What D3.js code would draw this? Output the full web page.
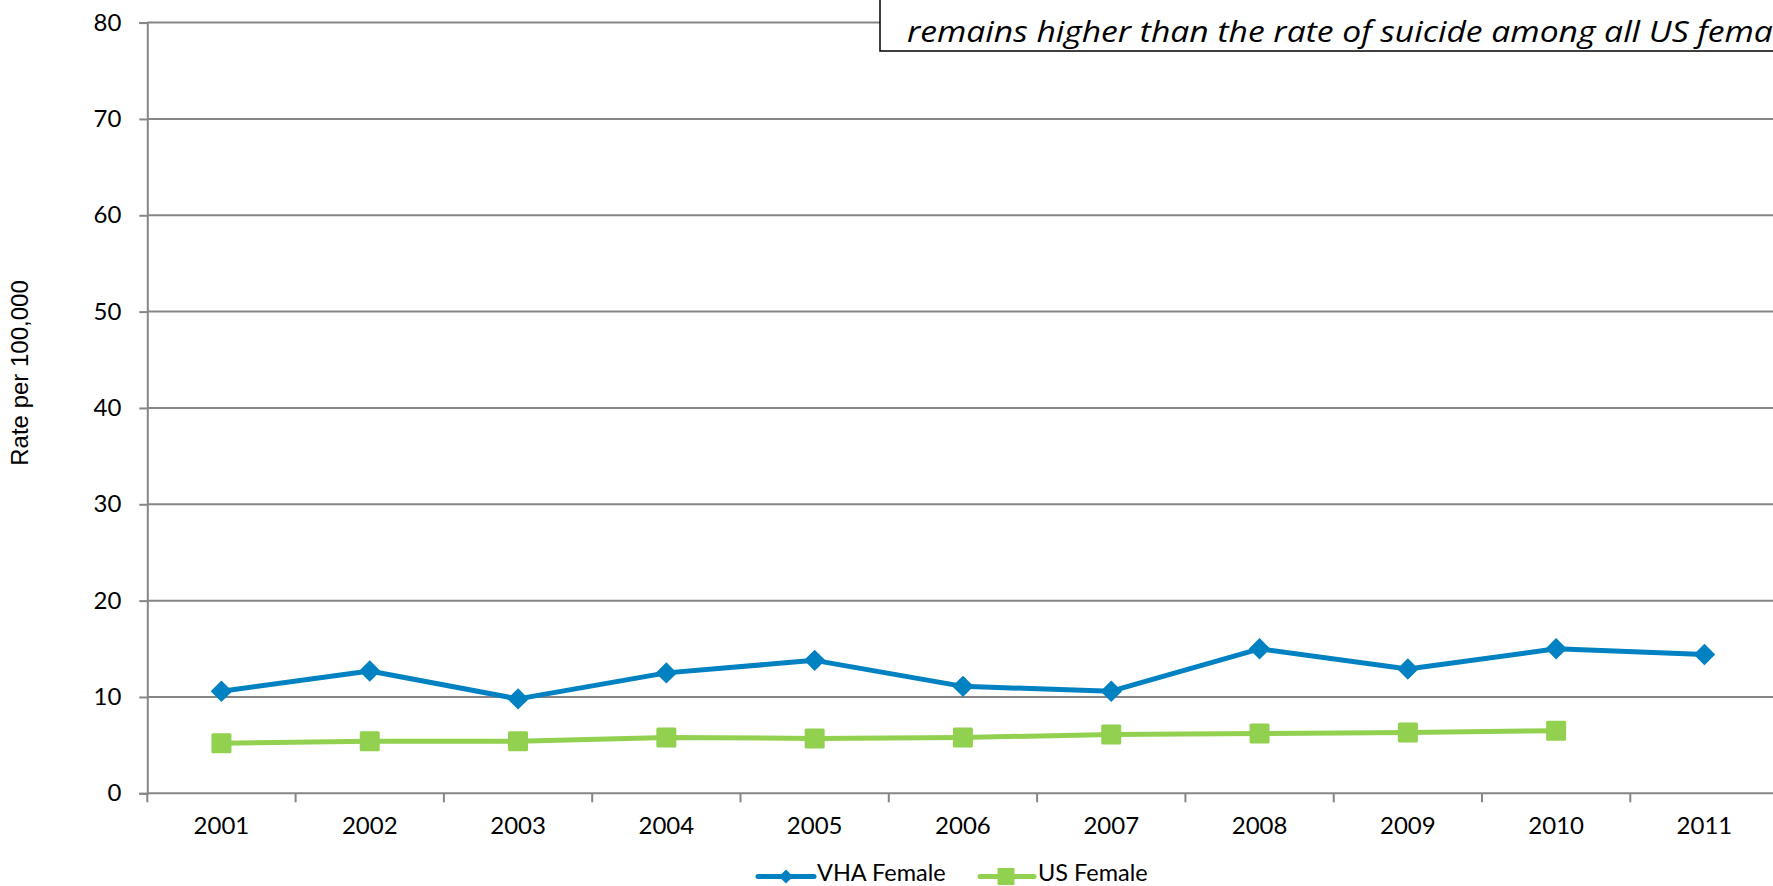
<!DOCTYPE html>
<html>
<head>
<meta charset="utf-8">
<script src="https://cdn.jsdelivr.net/npm/d3@7"></script>
<style>
  html, body { margin: 0; padding: 0; background: #fff; overflow: hidden; }
  svg { display: block; }
</style>
</head>
<body>
<svg id="chart" width="1773" height="886"></svg>
<script>
// Suicide rate per 100,000, female VHA users vs all US females
const years = ["2001", "2002", "2003", "2004", "2005", "2006", "2007", "2008", "2009", "2010", "2011"];
const vhaFemale = [10.6, 12.7, 9.8, 12.5, 13.8, 11.1, 10.6, 15.0, 12.9, 15.0, 14.4];
const usFemale = [5.2, 5.4, 5.4, 5.8, 5.7, 5.8, 6.1, 6.2, 6.3, 6.5];
const yTicks = [0, 10, 20, 30, 40, 50, 60, 70, 80];
const seriesNames = ["VHA Female", "US Female"];
const noteText = "remains higher than the rate of suicide among all US females.";

const BLUE = "#0081c1";
const GREEN = "#92d050";
const GRID = "#868686";
const TICK_FONT = "Lato, 'Open Sans', sans-serif";
const TICK_SIZE = 24;

const svg = d3.select("#chart");

const plot = { left: 147.3, right: 1778.6, top: 22.6, bottom: 793.3 };

const x = d3.scaleBand().domain(years).range([plot.left, plot.right]).paddingInner(0).paddingOuter(0);
const y = d3.scaleLinear().domain([0, 80]).range([plot.bottom, plot.top]);
const cx = d => x(d) + x.bandwidth() / 2;

// horizontal gridlines
svg.append("g")
  .selectAll("line")
  .data(yTicks.filter(t => t > 0))
  .join("line")
  .attr("x1", plot.left).attr("x2", plot.right)
  .attr("y1", d => y(d)).attr("y2", d => y(d))
  .attr("stroke", GRID).attr("stroke-width", 2);

// y axis
const yAxis = svg.append("g")
  .attr("transform", `translate(${plot.left},0)`)
  .call(d3.axisLeft(y).tickValues(yTicks).tickSize(8).tickPadding(18).tickFormat(d3.format("d")));
yAxis.select(".domain").attr("stroke", GRID).attr("stroke-width", 2);
yAxis.selectAll(".tick line").attr("stroke", GRID).attr("stroke-width", 2);
yAxis.selectAll(".tick text")
  .attr("font-family", TICK_FONT).attr("font-size", TICK_SIZE).attr("fill", "#000");

// x axis: labels centred in each category, ticks on category boundaries
const xAxis = svg.append("g")
  .attr("transform", `translate(0,${plot.bottom})`)
  .call(d3.axisBottom(x).tickSize(0).tickPadding(24));
xAxis.select(".domain").remove();
xAxis.selectAll(".tick text")
  .attr("font-family", TICK_FONT).attr("font-size", TICK_SIZE).attr("fill", "#000");

svg.append("line")
  .attr("x1", plot.left).attr("x2", plot.right)
  .attr("y1", plot.bottom).attr("y2", plot.bottom)
  .attr("stroke", GRID).attr("stroke-width", 2);

svg.append("g")
  .selectAll("line")
  .data(years.map(d => x(d)).concat([plot.right]))
  .join("line")
  .attr("x1", d => d).attr("x2", d => d)
  .attr("y1", plot.bottom).attr("y2", plot.bottom + 9)
  .attr("stroke", GRID).attr("stroke-width", 2);

// y axis title
svg.append("text")
  .attr("transform", "translate(28,373) rotate(-90)")
  .attr("text-anchor", "middle")
  .attr("font-family", "'Liberation Sans', Arial, sans-serif")
  .attr("font-size", 24)
  .attr("fill", "#000")
  .text("Rate per 100,000");

// annotation box
svg.append("rect")
  .attr("x", 880).attr("y", -60).attr("width", 1000).attr("height", 111)
  .attr("fill", "#fff").attr("stroke", "#000").attr("stroke-width", 1.5);

const noteSize = 30;
const note = svg.append("text")
  .attr("font-family", "'Open Sans', sans-serif")
  .attr("font-style", "italic")
  .attr("fill", "#000")
  .attr("font-size", noteSize)
  .text(noteText);
// narrow the note horizontally so "…all US fema" reaches the right edge of the page
(function fitNote() {
  const probe = svg.append("text")
    .attr("font-family", "'Open Sans', sans-serif").attr("font-style", "italic")
    .attr("font-size", noteSize).text("remains higher than the rate of suicide among all US fema");
  const w = probe.node().getComputedTextLength();
  probe.remove();
  const k = w > 0 ? 866 / w : 1;
  note.attr("transform", `translate(907,42) scale(${k},1)`);
})();

// series lines
const line = d3.line().x(d => cx(d.year)).y(d => y(d.value));
const vhaData = vhaFemale.map((v, i) => ({ year: years[i], value: v }));
const usData = usFemale.map((v, i) => ({ year: years[i], value: v }));

svg.append("path").datum(usData)
  .attr("d", line).attr("fill", "none")
  .attr("stroke", GREEN).attr("stroke-width", 5).attr("stroke-linejoin", "round");

svg.append("g").selectAll("rect")
  .data(usData).join("rect")
  .attr("x", d => cx(d.year) - 10).attr("y", d => y(d.value) - 10)
  .attr("width", 20).attr("height", 20).attr("rx", 1.5)
  .attr("fill", GREEN);

svg.append("path").datum(vhaData)
  .attr("d", line).attr("fill", "none")
  .attr("stroke", BLUE).attr("stroke-width", 5).attr("stroke-linejoin", "round");

const diamond = d3.symbol().type(d3.symbolSquare).size(230);
svg.append("g").selectAll("path")
  .data(vhaData).join("path")
  .attr("d", diamond)
  .attr("transform", d => `translate(${cx(d.year)},${y(d.value)}) rotate(45)`)
  .attr("fill", BLUE);

// legend
const legendY = 876.5;
const lg = svg.append("g");
lg.append("line").attr("x1", 758).attr("x2", 814).attr("y1", legendY).attr("y2", legendY)
  .attr("stroke", BLUE).attr("stroke-width", 5).attr("stroke-linecap", "round");
lg.append("path").attr("d", d3.symbol().type(d3.symbolSquare).size(100)())
  .attr("transform", `translate(786,${legendY}) rotate(45)`).attr("fill", BLUE);
lg.append("text").attr("x", 817).attr("y", 881)
  .attr("font-family", TICK_FONT).attr("font-size", 23.5).attr("fill", "#000")
  .text(seriesNames[0]);

lg.append("line").attr("x1", 980).attr("x2", 1034).attr("y1", legendY).attr("y2", legendY)
  .attr("stroke", GREEN).attr("stroke-width", 5).attr("stroke-linecap", "round");
lg.append("rect").attr("x", 1006 - 8.5).attr("y", legendY - 8.5).attr("width", 17).attr("height", 17)
  .attr("rx", 1).attr("fill", GREEN);
lg.append("text").attr("x", 1038).attr("y", 881)
  .attr("font-family", TICK_FONT).attr("font-size", 23.5).attr("fill", "#000")
  .text(seriesNames[1]);
</script>
</body>
</html>
